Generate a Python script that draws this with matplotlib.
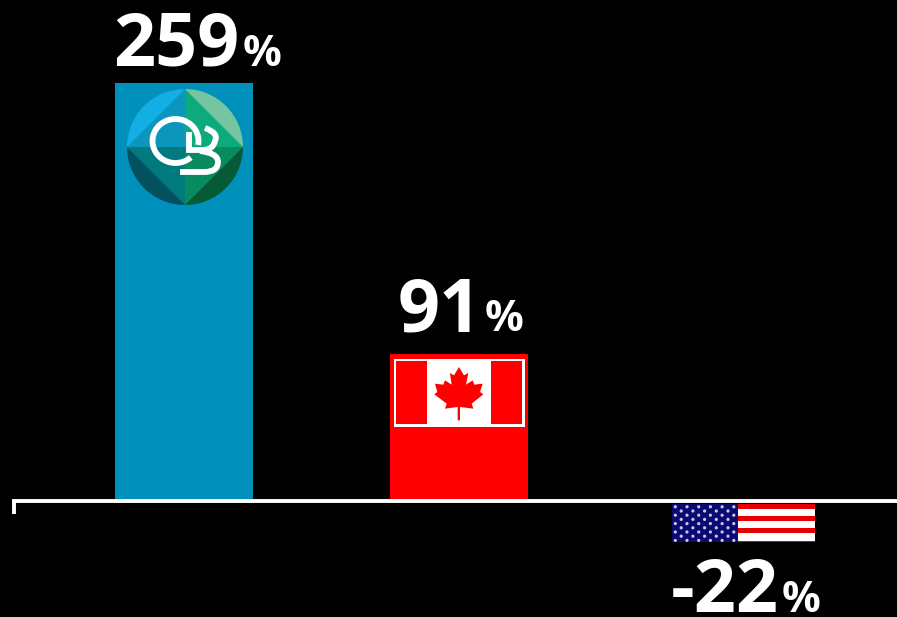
import matplotlib
matplotlib.use("Agg")
import matplotlib.pyplot as plt
from matplotlib.patches import Arc, Circle, PathPatch, Polygon, Rectangle, Wedge
from matplotlib.path import Path

# growth by group, in percent
categories = ["OB", "Canada", "USA"]
values = [259, 91, -22]
bar_colors = ["#0090bc", "#ff0000", "#000000"]

plt.rcParams["font.family"] = ["Open Sans", "DejaVu Sans"]

W, H = 897, 617
BASE_Y = 501.0          # pixel row of the zero line
PX_PER_UNIT = 1.614
BAR_STEP = 274.5
BAR_X0 = 184.3

fig = plt.figure(figsize=(W / 100, H / 100), dpi=100, facecolor="black")
ax = fig.add_axes([0, 0, 1, 1], facecolor="black")
ax.set_xlim(-BAR_X0 / BAR_STEP, (W - BAR_X0) / BAR_STEP)
ax.set_ylim(-(H - BASE_Y) / PX_PER_UNIT, BASE_Y / PX_PER_UNIT)

xs = list(range(len(values)))
ax.bar(xs, values, width=0.503, color=bar_colors, linewidth=0)

# zero line with a single tick on its left end
left_end = (13.5 - BAR_X0) / BAR_STEP
for name in ("top", "left", "right"):
    ax.spines[name].set_visible(False)
ax.spines["bottom"].set_position(("data", 0))
ax.spines["bottom"].set_bounds(left_end, ax.get_xlim()[1])
ax.spines["bottom"].set_color("white")
ax.spines["bottom"].set_linewidth(2.8)
ax.set_xticks([left_end])
ax.set_xticklabels([""])
ax.set_yticks([])
ax.tick_params(axis="x", direction="out", length=9, width=2.8, color="white")

# value labels: big number, smaller percent sign right after it
label_dx = [-71, -61, -63]
label_baseline = [66, 331, 612]
renderer = fig.canvas.get_renderer()
for x, v, dx, row in zip(xs, values, label_dx, label_baseline):
    top = v if v > 0 else 0
    dy = (BASE_Y - top * PX_PER_UNIT) - row
    num = ax.annotate(str(v), xy=(x, top), xytext=(dx, dy), textcoords="offset pixels",
                      color="white", fontsize=53, fontweight="bold", ha="left", va="baseline")
    width = num.get_window_extent(renderer).width
    ax.annotate("%", xy=(x, top), xytext=(dx + width + 3, dy), textcoords="offset pixels",
                color="white", fontsize=31, fontweight="bold", ha="left", va="baseline")

# emblems are drawn on a second axes that counts in pixels from the top left
deco = fig.add_axes([0, 0, 1, 1], facecolor="none")
deco.set_xlim(0, W)
deco.set_ylim(H, 0)
deco.axis("off")


def draw_logo(cx, cy, r):
    outer = [(180, 270, "#14aee6"), (270, 360, "#75c6a0"),
             (90, 180, "#03505f"), (0, 90, "#075a36")]
    for a, b, c in outer:
        deco.add_patch(Wedge((cx, cy), r, a, b, color=c, lw=0))
    top, bottom, lft, rgt = (cx, cy - r), (cx, cy + r), (cx - r, cy), (cx + r, cy)
    inner = [(lft, top, "#0b97bc"), (top, rgt, "#0cab7d"),
             (lft, bottom, "#00797f"), (bottom, rgt, "#098a60")]
    for p, q, c in inner:
        deco.add_patch(Polygon([p, q, (cx, cy)], color=c, lw=0))

    # the OB monogram
    deco.add_patch(Arc((175.5, 141), 46, 44, theta1=47, theta2=370, color="white", lw=4.2))
    stem = Path([(188.5, 132), (188.5, 150), (203, 150)],
                [Path.MOVETO, Path.LINETO, Path.LINETO])
    upper = Path([(205, 128), (219, 133), (215, 141), (213, 150), (203, 150)],
                 [Path.MOVETO, Path.CURVE3, Path.CURVE3, Path.CURVE3, Path.CURVE3])
    lower = Path([(200, 151), (218, 153), (218, 162), (218, 172), (204, 172), (180, 172)],
                 [Path.MOVETO, Path.CURVE3, Path.CURVE3, Path.CURVE3, Path.CURVE3, Path.LINETO])
    for p in (stem, upper, lower):
        deco.add_patch(PathPatch(p, fc="none", ec="white", lw=4.2))


def draw_canada():
    deco.add_patch(Rectangle((393.5, 358.5), 131.5, 68.5, color="white", lw=0))
    deco.add_patch(Rectangle((395.7, 360.7), 31.6, 63.6, color="#ff0000", lw=0))
    deco.add_patch(Rectangle((490.7, 360.7), 31.6, 63.6, color="#ff0000", lw=0))
    leaf = [(87, 15), (72, 40), (60, 33), (65, 68), (45, 55), (40, 68), (15, 65), (22, 90),
            (13, 97), (50, 125), (45, 140), (83, 135), (83, 175), (90, 175), (90, 135),
            (130, 140), (125, 125), (160, 97), (150, 90), (158, 65), (133, 68), (128, 55),
            (108, 68), (115, 33), (102, 40)]
    deco.add_patch(Polygon([(a / 3 + 430, b / 3 + 362) for a, b in leaf], color="#ff0000", lw=0))


def draw_usa():
    x0, x1, y0, y1 = 672, 815, 504, 542
    deco.add_patch(Rectangle((x0, y0), x1 - x0, y1 - y0, color="white", lw=0))
    for a, b in [(504, 509), (516, 521), (528, 533), (540.5, 542)]:
        deco.add_patch(Rectangle((738, a), x1 - 738, b - a, color="#e80000", lw=0))
    deco.add_patch(Rectangle((x0, y0), 66, y1 - y0, color="#0a0a72", lw=0))
    for row in range(9):
        y = 506.8 + row * 4.2
        start = 675.3 if row % 2 == 0 else 681.2
        count = 6 if row % 2 == 0 else 5
        for col in range(count):
            deco.add_patch(Circle((start + col * 11.7, y), 1.6, color="#c8c8e6", lw=0))


draw_logo(185, 147, 58)
draw_canada()
draw_usa()

fig.savefig("out.png", dpi=100, facecolor="black")
plt.close(fig)
